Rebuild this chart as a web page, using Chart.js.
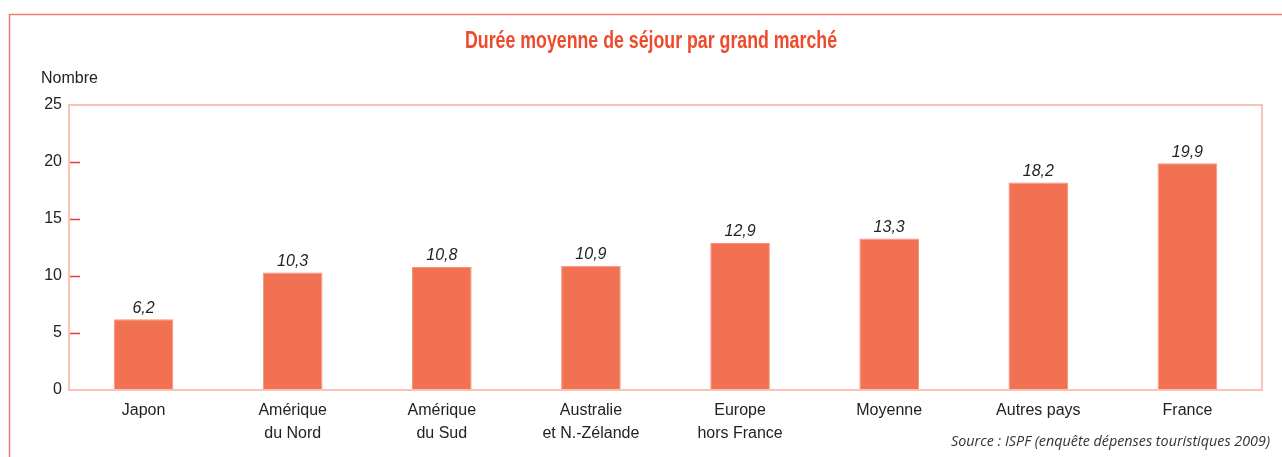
<!DOCTYPE html>
<html>
<head>
<meta charset="utf-8">
<script src="https://cdn.jsdelivr.net/npm/chart.js@4.4.1/dist/chart.umd.min.js"></script>
<style>
  html, body { margin: 0; padding: 0; background: #fff; overflow: hidden; }
  canvas { display: block; }
</style>
</head>
<body>
<canvas id="myBarChart" width="1282" height="457"></canvas>
<script>
var labels = ['Japon', ['Amérique', 'du Nord'], ['Amérique', 'du Sud'], ['Australie', 'et N.-Zélande'],
              ['Europe', 'hors France'], 'Moyenne', 'Autres pays', 'France'];
var durees = [6.2, 10.3, 10.8, 10.9, 12.9, 13.3, 18.2, 19.9];
var yTicks = [0, 5, 10, 15, 20, 25];

var titre = 'Durée moyenne de séjour par grand marché';
var source = 'Source : ISPF (enquête dépenses touristiques 2009)';

// frame, inner box, red ticks, value labels, titles
var decor = {
    id: 'decor',
    beforeDraw: function(chart) {
        var c = chart.ctx;
        c.save();
        c.strokeStyle = '#ef7f6c';
        c.lineWidth = 1.5;
        c.beginPath();
        c.moveTo(9.5, 457);
        c.lineTo(9.5, 14.5);
        c.lineTo(1282, 14.5);
        c.stroke();
        c.restore();
    },
    afterDatasetsDraw: function(chart) {
        var c = chart.ctx;
        var a = chart.chartArea;
        var y = chart.scales.y;
        c.save();
        c.strokeStyle = '#f9c3b3';
        c.lineWidth = 2;
        c.strokeRect(a.left, a.top, a.right - a.left, a.bottom - a.top);

        c.strokeStyle = '#ea3b3b';
        c.lineWidth = 1.5;
        [5, 10, 15, 20].forEach(function(v) {
            var py = Math.round(y.getPixelForValue(v)) + 0.5;
            c.beginPath();
            c.moveTo(a.left + 1, py);
            c.lineTo(a.left + 11, py);
            c.stroke();
        });

        c.fillStyle = '#222';
        c.font = 'italic 16px "Liberation Sans", Arial, sans-serif';
        c.textAlign = 'center';
        c.textBaseline = 'bottom';
        var meta = chart.getDatasetMeta(0);
        meta.data.forEach(function(bar, i) {
            c.fillText(durees[i].toFixed(1).replace('.', ','), bar.x, bar.y - 3);
        });

        // condensed bold title: squeeze to the reference width
        c.fillStyle = '#ee4a2c';
        c.font = 'bold 24px "Liberation Sans", Arial, sans-serif';
        c.textBaseline = 'alphabetic';
        var w = c.measureText(titre).width;
        c.save();
        c.translate(651, 48);
        c.scale(372 / w, 1);
        c.fillText(titre, 0, 0);
        c.restore();

        c.fillStyle = '#222';
        c.font = '16px "Liberation Sans", Arial, sans-serif';
        c.textAlign = 'left';
        c.fillText('Nombre', 41, 83);

        c.fillStyle = '#333';
        c.font = 'italic 14px "Open Sans", sans-serif';
        c.textAlign = 'right';
        var ws = c.measureText(source).width;
        c.save();
        c.translate(1270, 446);
        c.scale(319 / ws, 1);
        c.fillText(source, 0, 0);
        c.restore();
        c.restore();
    }
};

var ctxB = document.getElementById('myBarChart').getContext('2d');
var myBarChart = new Chart(ctxB, {
    type: 'bar',
    data: {
        labels: labels,
        datasets: [{
            label: 'Durée moyenne',
            data: durees,
            backgroundColor: '#f27152',
            borderColor: '#f6937a',
            borderWidth: 1,
            barPercentage: 0.4,
            categoryPercentage: 1.0
        }]
    },
    options: {
        responsive: false,
        animation: false,
        devicePixelRatio: 1,
        layout: { padding: { top: 105, right: 20, left: 0, bottom: 0 } },
        plugins: {
            legend: { display: false },
            tooltip: { enabled: false }
        },
        scales: {
            x: {
                grid: { display: false, drawTicks: false },
                border: { display: false },
                ticks: {
                    color: '#222',
                    padding: 9,
                    maxRotation: 0,
                    autoSkip: false,
                    font: { family: '"Liberation Sans", Arial, sans-serif', size: 16, lineHeight: 1.45 }
                },
                afterFit: function(s) { s.height = 67; }
            },
            y: {
                min: 0,
                max: 25,
                afterBuildTicks: function(s) {
                    s.ticks = yTicks.map(function(v) { return { value: v }; });
                },
                grid: { display: false, drawTicks: false },
                border: { display: false },
                ticks: {
                    color: '#222',
                    padding: 7,
                    font: { family: '"Liberation Sans", Arial, sans-serif', size: 16 }
                },
                afterFit: function(s) { s.width = 69; }
            }
        }
    },
    plugins: [decor]
});
</script>
</body>
</html>
